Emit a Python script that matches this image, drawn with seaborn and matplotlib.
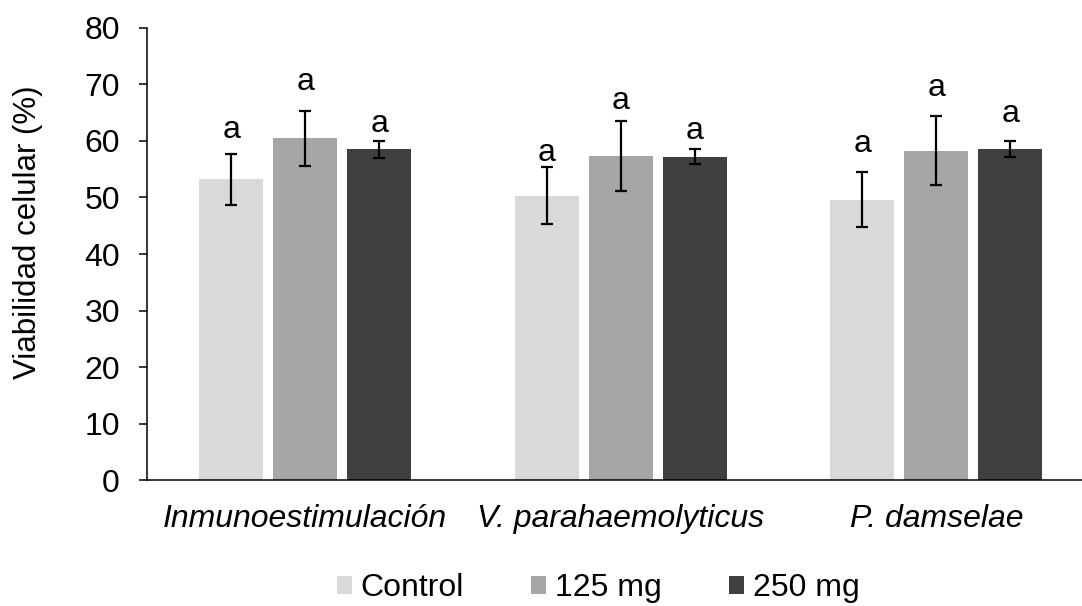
import matplotlib
matplotlib.use("Agg")
import matplotlib.pyplot as plt
import seaborn as sns
import pandas as pd

# Viabilidad celular por tratamiento (media y desviación estándar)
categories = ["Inmunoestimulación", "V. parahaemolyticus", "P. damselae"]
doses = ["Control", "125 mg", "250 mg"]
control_mean = [53.2, 50.3, 49.6]
control_sd = [4.5, 5.0, 4.9]
mg125_mean = [60.5, 57.3, 58.3]
mg125_sd = [4.85, 6.2, 6.1]
mg250_mean = [58.5, 57.2, 58.5]
mg250_sd = [1.5, 1.3, 1.4]
letters = [["a", "a", "a"], ["a", "a", "a"], ["a", "a", "a"]]
y_ticks = [0, 10, 20, 30, 40, 50, 60, 70, 80]

means = [control_mean, mg125_mean, mg250_mean]
sds = [control_sd, mg125_sd, mg250_sd]
df = pd.DataFrame({
    "categoria": [c for _ in doses for c in categories],
    "dosis": [d for d in doses for _ in categories],
    "viabilidad": [v for m in means for v in m],
})

sns.set_theme(style="white")
plt.rcParams["font.family"] = ["Liberation Sans", "DejaVu Sans"]
plt.rcParams["text.color"] = "black"
plt.rcParams["axes.labelcolor"] = "black"
plt.rcParams["xtick.color"] = "black"
plt.rcParams["ytick.color"] = "black"

FS = 23

fig = plt.figure(figsize=(10.82, 6.06), dpi=100)
ax = fig.add_axes([0.1363, 0.2071, 0.875, 0.7472])

palette = {"Control": "#D9D9D9", "125 mg": "#A6A6A6", "250 mg": "#404040"}
sns.barplot(data=df, x="categoria", y="viabilidad", hue="dosis",
            order=categories, hue_order=doses, palette=palette,
            errorbar=None, width=0.703, gap=0.135, saturation=1,
            linewidth=0, ax=ax)

# Error bars and significance letters at the centre of each bar
bars = [p for p in ax.patches if p.get_height() > 0]
letter_offset = [[4.3, 2.6, 5.0], [5.0, 3.6, 5.0], [3.0, 3.2, 4.9]]
for i, dose in enumerate(doses):
    for j in range(len(categories)):
        bar = bars[i * len(categories) + j]
        x = bar.get_x() + bar.get_width() / 2
        m, s = means[i][j], sds[i][j]
        ax.errorbar(x, m, yerr=s, fmt="none", ecolor="black",
                    elinewidth=1.6, capsize=4.4, capthick=1.6)
        ax.text(x, m + s + letter_offset[i][j], letters[i][j],
                ha="center", va="center", fontsize=FS, color="black")

ax.set_ylim(0, 80)
ax.set_xlim(-0.5, 2.5)
ax.set_yticks(y_ticks)
ax.tick_params(axis="y", which="major", direction="out", length=5.8,
               width=1.1, color="black", left=True, pad=14, labelsize=FS)
ax.tick_params(axis="x", length=0, pad=17, labelsize=FS)
for lbl in ax.get_xticklabels():
    lbl.set_fontstyle("italic")
ax.set_xlabel("")
ax.set_ylabel("Viabilidad celular (%)", fontsize=22.5, color="black")
ax.yaxis.set_label_coords(-0.11, 0.549)

for side in ["top", "right"]:
    ax.spines[side].set_visible(False)
for side in ["left", "bottom"]:
    ax.spines[side].set_color("black")
    ax.spines[side].set_linewidth(1.1)

ax.legend(loc="center", bbox_to_anchor=(0.553, 0.029),
          bbox_transform=fig.transFigure,
          ncol=3, frameon=False, fontsize=FS, handlelength=0.47,
          handleheight=0.47, handletextpad=0.28, columnspacing=2.1,
          borderaxespad=0, borderpad=0)

fig.savefig("out.png", dpi=100)
